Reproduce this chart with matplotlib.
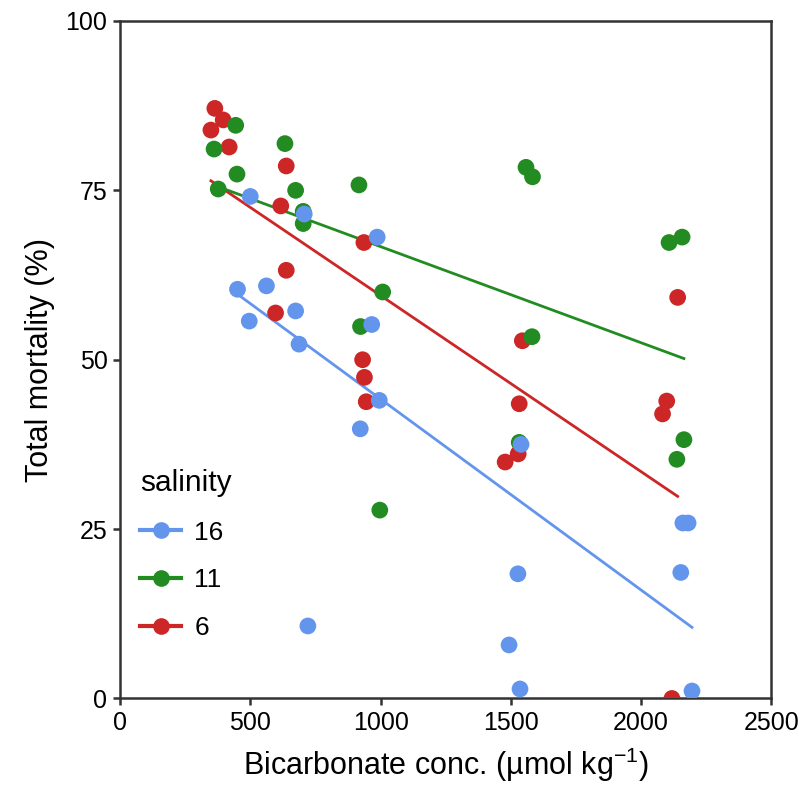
import numpy as np
import matplotlib
matplotlib.use("Agg")
import matplotlib.pyplot as plt
from matplotlib.lines import Line2D

plt.rcParams['font.family'] = ['Liberation Sans', 'DejaVu Sans']
plt.rcParams['mathtext.fontset'] = 'custom'
plt.rcParams['mathtext.rm'] = 'Liberation Sans'
plt.rcParams['mathtext.it'] = 'Liberation Sans:italic'

# salinity 16
x_16 = [500, 707, 987, 451, 562, 496, 674, 687, 966, 995, 922, 721,
        1539, 1527, 1493, 1535, 2160, 2180, 2152, 2195]
y_16 = [74.1, 71.5, 68.1, 60.4, 60.9, 55.7, 57.2, 52.3, 55.2, 44.0, 39.8, 10.7,
        37.5, 18.4, 7.9, 1.4, 25.9, 25.9, 18.6, 1.1]

# salinity 11
x_11 = [444, 361, 633, 449, 377, 674, 703, 703, 917, 1008, 923, 997,
        1558, 1583, 1581, 1532, 2107, 2157, 2164, 2137]
y_11 = [84.6, 81.1, 81.9, 77.4, 75.2, 75.0, 71.9, 70.1, 75.8, 60.0, 54.9, 27.8,
        78.4, 77.0, 53.4, 37.8, 67.3, 68.1, 38.2, 35.3]

# salinity 6
x_6 = [364, 396, 349, 419, 638, 617, 936, 638, 597, 931, 938, 945,
       1544, 1532, 1528, 1478, 2140, 2098, 2082, 2118]
y_6 = [87.1, 85.4, 83.9, 81.4, 78.6, 72.7, 67.3, 63.2, 56.9, 50.0, 47.4, 43.8,
       52.8, 43.5, 36.1, 34.9, 59.2, 43.9, 42.0, 0.0]

groups = ['16', '11', '6']
colors = {'16': '#6495ED', '11': '#228B22', '6': '#CD2626'}
data = {'16': (x_16, y_16), '11': (x_11, y_11), '6': (x_6, y_6)}

fig = plt.figure(figsize=(8.08, 7.92), dpi=100)
ax = fig.add_axes([0.1485, 0.1181, 0.8063, 0.8554])

# lines first, then points (red at the bottom, blue on top)
for z, g in enumerate(reversed(groups)):
    x, y = np.array(data[g][0], float), np.array(data[g][1], float)
    slope, icpt = np.polyfit(x, y, 1)
    xs = np.array([x.min(), x.max()])
    ax.plot(xs, icpt + slope * xs, color=colors[g], lw=2.0, zorder=2 + z * 0.1)
for z, g in enumerate(reversed(groups)):
    x, y = data[g]
    ax.scatter(x, y, s=145, color=colors[g], edgecolors='none', zorder=3 + z)

ax.set_xlim(0, 2500)
ax.set_ylim(0, 100)
ax.set_xticks([0, 500, 1000, 1500, 2000, 2500])
ax.set_yticks([0, 25, 50, 75, 100])

for s in ax.spines.values():
    s.set_color('#333333')
    s.set_linewidth(1.8)
ax.tick_params(direction='out', length=5, width=1.8, color='#333333',
               labelsize=18, labelcolor='black', pad=4)

ax.set_xlabel(r'Bicarbonate conc. (µmol kg$^{-1}$)', fontsize=22, labelpad=8)
ax.set_ylabel('Total mortality (%)', fontsize=22, labelpad=8)

handles = [Line2D([0], [0], color=colors[g], lw=3, marker='o', markersize=12,
                  markeredgewidth=0) for g in groups]
leg = ax.legend(handles, groups, title='salinity', loc='lower left',
                bbox_to_anchor=(0.031, 0.086), frameon=False, fontsize=19,
                title_fontsize=21.5, handlelength=1.55, handletextpad=0.5,
                labelspacing=0.9, borderpad=0, borderaxespad=0,
                alignment='left')
leg._legend_box.sep = 17

fig.savefig('out.png', dpi=100)
